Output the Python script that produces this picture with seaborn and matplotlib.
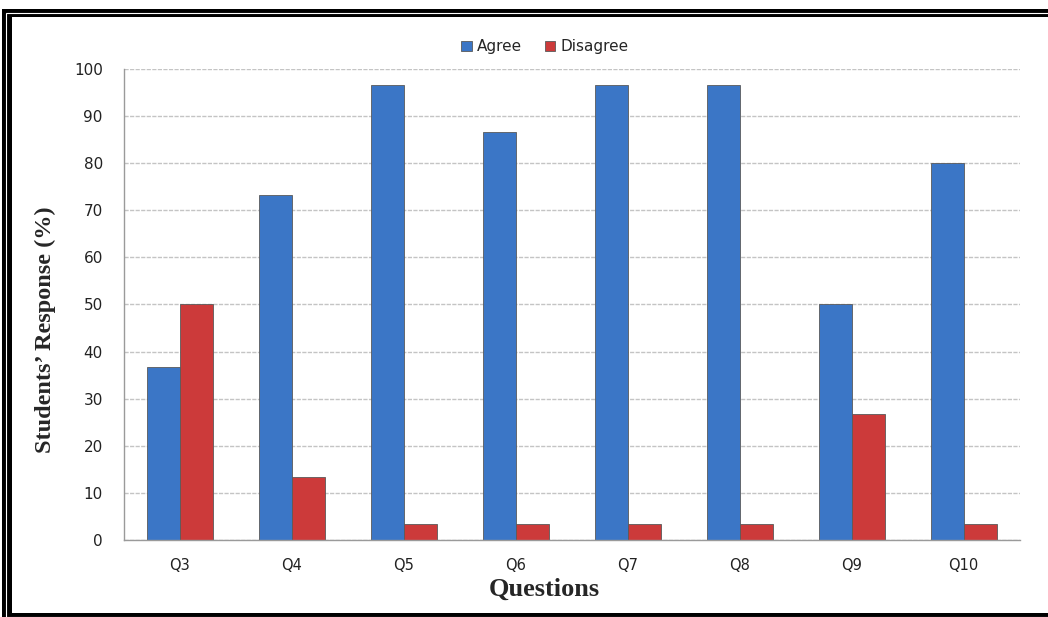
import pandas as pd
import numpy as np
import matplotlib
matplotlib.use("Agg")
import matplotlib.pyplot as plt
import seaborn as sns
from matplotlib.patches import Rectangle

# data
questions = ["Q3", "Q4", "Q5", "Q6", "Q7", "Q8", "Q9", "Q10"]
agree = [36.7, 73.3, 96.7, 86.7, 96.7, 96.7, 50.0, 80.0]
disagree = [50.0, 13.3, 3.3, 3.3, 3.3, 3.3, 26.7, 3.3]

df = pd.DataFrame({"Question": questions * 2,
                   "Response": agree + disagree,
                   "Type": ["Agree"] * len(questions) + ["Disagree"] * len(questions)})

sns.set_style("white")
plt.rcParams['font.family'] = ['DejaVu Sans']

fig = plt.figure(figsize=(10.48, 6.17), dpi=100)
ax = fig.add_axes([0.118, 0.125, 0.855, 0.763])

sns.barplot(data=df, x="Question", y="Response", hue="Type", order=questions,
            palette={"Agree": "#3b76c6", "Disagree": "#cc3a3a"}, saturation=1,
            width=0.59, edgecolor="#5a5a5a", linewidth=0.6, ax=ax)

ax.set_ylim(0, 100)
ax.set_xlim(-0.5, len(questions) - 0.5)
ax.set_yticks(range(0, 101, 10))
ax.yaxis.grid(True, color="#c4c4c4", linewidth=1, linestyle=(0, (3, 1)))
ax.set_axisbelow(True)

# ticks at category boundaries
ax.set_xticks(np.arange(-0.5, len(questions), 1), minor=True)
ax.tick_params(axis="x", which="major", length=0, pad=13, labelsize=10.5, colors="#222222")
ax.tick_params(axis="x", which="minor", length=5, color="#999999", direction="out")
ax.tick_params(axis="y", length=5, color="#999999", labelsize=11, pad=10, labelcolor="#222222")

for s in ["top", "right"]:
    ax.spines[s].set_visible(False)
for s in ["left", "bottom"]:
    ax.spines[s].set_color("#9a9a9a")
    ax.spines[s].set_linestyle((0, (2, 1)))
    ax.spines[s].set_linewidth(1)

ax.set_xlabel("Questions", fontfamily="Liberation Serif", fontweight="bold", fontsize=19)
ax.xaxis.set_label_coords(0.47, -0.08)
ax.set_ylabel("Students\u2019 Response (%)", fontfamily="Liberation Serif",
              fontweight="bold", fontsize=17.5)
ax.yaxis.set_label_coords(-0.076, 0.446)

ax.legend(title=None, loc="lower center", bbox_to_anchor=(0.47, 1.012), ncol=2,
          frameon=False, fontsize=11, handlelength=0.7, handleheight=0.7,
          handletextpad=0.3, columnspacing=1.5, borderaxespad=0.2)

# thick black frame with a thin white line inside it
W, H = 1048.0, 617.0
fig.patches.append(Rectangle((2 / W, -0.1), 2.0, 1 - 9 / H + 0.1, transform=fig.transFigure,
                             facecolor="black", edgecolor="none", zorder=-5))
fig.patches.append(Rectangle((12 / W, 4 / H), 2.0, 1 - 17 / H - 4 / H, transform=fig.transFigure,
                             facecolor="white", edgecolor="none", zorder=-4))
fig.patches.append(Rectangle((5.5 / W, 0.5 / H), 2.0, 1 - 12.5 / H - 0.5 / H, transform=fig.transFigure,
                             fill=False, edgecolor="white", linewidth=0.8, zorder=-3))

fig.savefig("out.png", dpi=100)
